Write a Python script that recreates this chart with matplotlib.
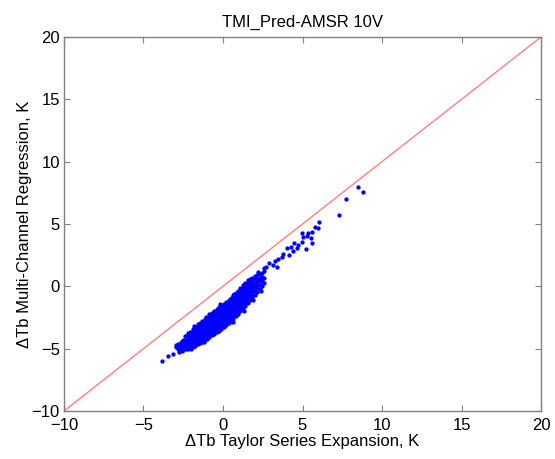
import numpy as np
import matplotlib
matplotlib.use('Agg')
import matplotlib.pyplot as plt

plt.rcParams['font.family'] = ['Liberation Sans', 'DejaVu Sans']

# dense core of the cloud, read column by column (x, list of y)
core_x = [-2.95, -2.8, -2.65, -2.5, -2.35, -2.2, -2.05, -1.9, -1.75, -1.6,
          -1.45, -1.3, -1.15, -1.0, -0.85, -0.7, -0.55, -0.4, -0.25, -0.1,
          0.05, 0.2, 0.35, 0.5, 0.65, 0.8, 0.95, 1.1, 1.25, 1.4,
          1.55, 1.7, 1.85, 2.0, 2.15, 2.3, 2.45, 2.6]
core_y = [
    [-4.9, -4.72],
    [-5.0, -4.82, -4.62],
    [-5.08, -4.88, -4.68, -4.45],
    [-5.12, -4.93, -4.7, -4.5, -4.28],
    [-5.05, -4.86, -4.64, -4.42, -4.2, -4.02],
    [-5.02, -4.8, -4.6, -4.38, -4.17, -3.95, -3.78],
    [-4.95, -4.74, -4.52, -4.31, -4.1, -3.9, -3.7],
    [-4.86, -4.66, -4.45, -4.24, -4.03, -3.82, -3.62, -3.45],
    [-4.78, -4.57, -4.36, -4.15, -3.94, -3.73, -3.52, -3.3],
    [-4.66, -4.45, -4.25, -4.04, -3.83, -3.62, -3.41, -3.2, -3.05],
    [-4.58, -4.36, -4.15, -3.94, -3.73, -3.52, -3.31, -3.1, -2.92],
    [-4.45, -4.24, -4.03, -3.82, -3.61, -3.4, -3.19, -2.98, -2.8],
    [-4.3, -4.1, -3.9, -3.69, -3.48, -3.27, -3.06, -2.85, -2.65],
    [-4.2, -3.99, -3.78, -3.57, -3.36, -3.15, -2.94, -2.73, -2.52],
    [-4.05, -3.85, -3.65, -3.44, -3.23, -3.02, -2.81, -2.6, -2.4, -2.25],
    [-3.92, -3.72, -3.52, -3.31, -3.1, -2.89, -2.68, -2.47, -2.27, -2.1],
    [-3.8, -3.6, -3.4, -3.19, -2.98, -2.77, -2.56, -2.35, -2.14, -1.95],
    [-3.66, -3.46, -3.26, -3.05, -2.84, -2.63, -2.42, -2.21, -2.0, -1.8],
    [-3.55, -3.34, -3.13, -2.92, -2.71, -2.5, -2.29, -2.08, -1.87, -1.66],
    [-3.4, -3.2, -3.0, -2.79, -2.58, -2.37, -2.16, -1.95, -1.74, -1.52],
    [-3.25, -3.05, -2.85, -2.64, -2.43, -2.22, -2.01, -1.8, -1.59, -1.38],
    [-3.1, -2.9, -2.7, -2.49, -2.28, -2.07, -1.86, -1.65, -1.44, -1.22],
    [-2.95, -2.75, -2.55, -2.34, -2.13, -1.92, -1.71, -1.5, -1.29, -1.08],
    [-2.78, -2.58, -2.38, -2.17, -1.96, -1.75, -1.54, -1.33, -1.12, -0.92],
    [-2.6, -2.4, -2.2, -1.99, -1.78, -1.57, -1.36, -1.15, -0.94, -0.72],
    [-2.42, -2.22, -2.02, -1.81, -1.6, -1.39, -1.18, -0.97, -0.76, -0.55],
    [-2.22, -2.02, -1.82, -1.61, -1.4, -1.19, -0.98, -0.77, -0.56, -0.36],
    [-2.0, -1.8, -1.6, -1.39, -1.18, -0.97, -0.76, -0.55, -0.34, -0.12],
    [-1.8, -1.6, -1.4, -1.19, -0.98, -0.77, -0.56, -0.35, -0.14, 0.08],
    [-1.58, -1.38, -1.18, -0.97, -0.76, -0.55, -0.34, -0.13, 0.1, 0.3],
    [-1.36, -1.15, -0.94, -0.73, -0.52, -0.31, -0.1, 0.12, 0.34],
    [-1.12, -0.92, -0.7, -0.48, -0.26, -0.05, 0.17, 0.4, 0.6],
    [-0.9, -0.66, -0.44, -0.22, 0.0, 0.22, 0.45, 0.7],
    [-0.66, -0.4, -0.16, 0.06, 0.3, 0.55, 0.82],
    [-0.45, -0.15, 0.1, 0.36, 0.62, 0.9],
    [-0.2, 0.12, 0.4, 0.7, 1.0],
    [0.05, 0.4, 0.75, 1.1],
    [0.3, 0.7, 1.2],
]

# loose points round the edges of the cloud
edge_x = [-3.86, -3.48, -3.12, -2.77, -2.6, -2.0, -1.2, -0.3, 0.6, 1.3, 1.9, 2.4,
          -2.4, -1.8, -1.1, -0.2, 0.7, 1.6, 2.2, 2.55]
edge_y = [-5.98, -5.56, -5.42, -5.28, -5.2, -5.05, -4.5, -3.62, -2.85, -1.95, -1.1, -0.35,
          -3.95, -3.2, -2.45, -1.45, -0.6, 0.5, 1.15, 1.5]

# sparse upper tail
tail_x = [8.47, 8.79, 7.74, 7.28, 6.06, 5.79, 6.0, 5.62, 5.37, 5.26, 5.52, 5.58,
          4.95, 5.01, 4.95, 5.22, 4.74, 4.64, 4.47, 4.26, 4.38, 4.05, 4.17, 3.79,
          3.69, 3.48, 3.27, 3.16, 2.91, 2.7, 3.38]
tail_y = [7.95, 7.6, 6.98, 5.75, 5.19, 4.79, 4.66, 4.39, 4.26, 4.04, 3.86, 3.46,
          4.26, 3.99, 3.54, 2.98, 3.32, 3.05, 3.46, 3.18, 2.84, 3.05, 2.52, 2.6,
          2.33, 2.17, 2.04, 1.72, 1.85, 1.53, 1.53]

one_to_one = [-10, 20]

xs = [x for x, col in zip(core_x, core_y) for _ in col] + edge_x + tail_x
ys = [y for col in core_y for y in col] + edge_y + tail_y

fig = plt.figure(figsize=(5.55, 4.59), dpi=100)
ax = fig.add_axes([0.1153, 0.1046, 0.8595, 0.8148])

ax.plot(one_to_one, one_to_one, color='#ff8080', lw=1.0, zorder=1)
ax.plot(xs, ys, 'o', color='#0000ff', markersize=3.1, markeredgewidth=0, zorder=2)

ax.set_xlim(-10, 20)
ax.set_ylim(-10, 20)
ax.set_xticks(np.arange(-10, 21, 5))
ax.set_yticks(np.arange(-10, 21, 5))
ax.tick_params(direction='in', top=True, right=True, length=4, width=0.8,
               color='#808080', labelsize=12)
ax.tick_params(axis='x', pad=5)
ax.tick_params(axis='y', pad=3)
for s in ax.spines.values():
    s.set_color('#808080')
    s.set_linewidth(1.0)

ax.set_title('TMI_Pred-AMSR 10V', fontsize=12, pad=7)
ax.set_xlabel('\u0394Tb Taylor Series Expansion, K', fontsize=12, labelpad=1)
ax.set_ylabel('\u0394Tb Multi-Channel Regression, K', fontsize=12, labelpad=0)

fig.savefig('out.png', dpi=100)
